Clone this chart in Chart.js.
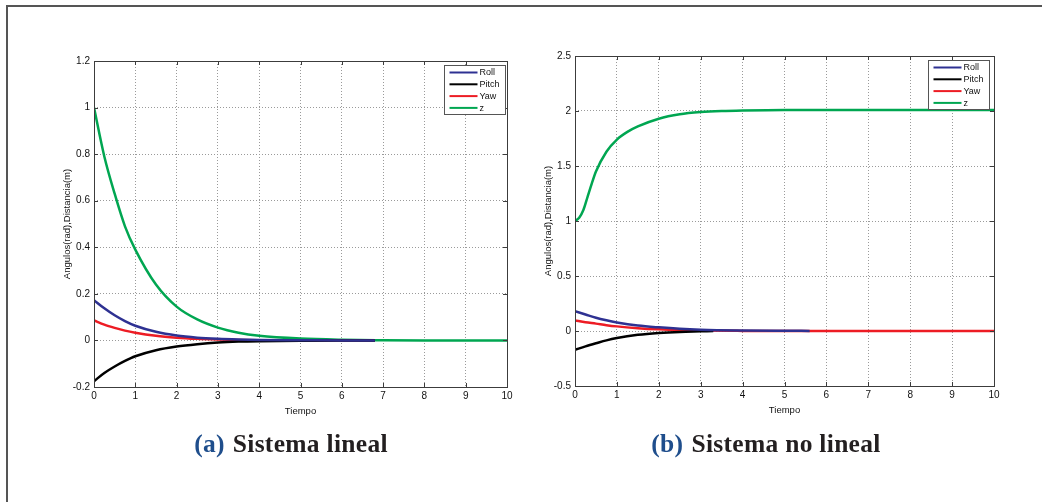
<!DOCTYPE html>
<html>
<head>
<meta charset="utf-8">
<script src="https://cdn.jsdelivr.net/npm/chart.js@4/dist/chart.umd.min.js"></script>
<style>
  html, body { margin: 0; padding: 0; background: #fff; }
  body { width: 1042px; height: 502px; position: relative; overflow: hidden; font-family: "Liberation Sans", Arial, sans-serif; }
  #frame { position: absolute; left: 6px; top: 5px; width: 1100px; height: 600px; border-left: 2px solid #555; border-top: 2px solid #555; }
  .wrap { position: absolute; top: 0; height: 430px; }
  #w1 { left: 0; width: 521px; }
  #w2 { left: 521px; width: 521px; }
  .cap { position: absolute; top: 429px; font-family: "Liberation Serif", "DejaVu Serif", serif; font-weight: bold; font-size: 25.5px; letter-spacing: 0.3px; color: #231f20; white-space: nowrap; transform: translateX(-50%); }
  .cap .lab { color: #1f4e8c; margin-right: 8px; }
</style>
</head>
<body>
<div id="frame"></div>
<div class="wrap" id="w1"><canvas id="c1" width="521" height="430"></canvas></div>
<div class="wrap" id="w2"><canvas id="c2" width="521" height="430"></canvas></div>
<div class="cap" style="left:291px"><span class="lab">(a)</span>Sistema lineal</div>
<div class="cap" style="left:766px"><span class="lab">(b)</span>Sistema no lineal</div>
<script>
// ---------- data (a) Sistema lineal ----------
const tLinZ    = [0, 0.25, 0.5, 0.75, 1, 1.5, 2, 2.5, 3, 3.5, 4, 5, 6, 7, 8, 9, 10];
const zLin     = [1, 0.79, 0.63, 0.49, 0.39, 0.24, 0.145, 0.09, 0.055, 0.033, 0.02, 0.008, 0.003, 0.001, 0, 0, 0];
const tLinA    = [0, 0.25, 0.5, 0.75, 1, 1.5, 2, 2.5, 3, 3.5, 4, 5, 6, 6.8];
const rollLin  = [0.173, 0.138, 0.108, 0.083, 0.063, 0.037, 0.021, 0.012, 0.007, 0.004, 0.002, 0.001, 0, 0];
const pitchLin = [-0.175, -0.140, -0.112, -0.088, -0.068, -0.042, -0.026, -0.016, -0.009, -0.005, -0.003, -0.001, 0, 0];
const yawLin   = [0.086, 0.068, 0.054, 0.042, 0.033, 0.020, 0.012, 0.007, 0.004, 0.002, 0.001, 0, 0, 0];

// ---------- data (b) Sistema no lineal ----------
const tNlZ     = [0, 0.1, 0.2, 0.3, 0.4, 0.5, 0.75, 1, 1.25, 1.5, 2, 2.5, 3, 3.5, 4, 5, 6, 7, 8, 9, 10];
const zNl      = [1.0, 1.03, 1.1, 1.22, 1.34, 1.45, 1.63, 1.74, 1.81, 1.86, 1.93, 1.97, 1.99, 2.0, 2.005, 2.01, 2.01, 2.01, 2.01, 2.01, 2.01];
const tNlRoll  = [0, 0.25, 0.5, 0.75, 1, 1.5, 2, 2.5, 3, 4, 5, 5.6];
const rollNl   = [0.18, 0.15, 0.12, 0.097, 0.078, 0.05, 0.033, 0.02, 0.012, 0.005, 0.002, 0.001];
const tNlPitch = [0, 0.25, 0.5, 0.75, 1, 1.5, 2, 2.5, 3, 3.3];
const pitchNl  = [-0.17, -0.14, -0.112, -0.085, -0.064, -0.035, -0.018, -0.008, -0.003, 0];
const tNlYaw   = [0, 0.25, 0.5, 0.75, 1, 1.5, 2, 2.5, 3, 4, 5, 10];
const yawNl    = [0.096, 0.08, 0.067, 0.053, 0.042, 0.026, 0.015, 0.008, 0.004, 0.001, 0, 0];

const seriesNames = ['Roll', 'Pitch', 'Yaw', 'z'];
const seriesColors = ['#2e3192', '#000000', '#ed1c24', '#00a651'];
const xTicks = [0, 1, 2, 3, 4, 5, 6, 7, 8, 9, 10];

const pts = (ts, vs) => ts.map((t, i) => ({ x: t, y: vs[i] }));

function ds(name, ts, vs) {
  const i = seriesNames.indexOf(name);
  return {
    label: name, data: pts(ts, vs),
    borderColor: seriesColors[i], backgroundColor: seriesColors[i],
    borderWidth: 2.5, pointRadius: 0, fill: false,
    cubicInterpolationMode: 'monotone'
  };
}

const fmt = v => {
  const s = Math.round(v * 10) / 10;
  return (s === 0) ? '0' : String(s);
};

const frameLegend = {
  id: 'frameLegend',
  afterDraw(chart, args, opts) {
    const ctx = chart.ctx, a = chart.chartArea;
    ctx.save();
    ctx.strokeStyle = '#3c3c3c'; ctx.lineWidth = 1;
    ctx.strokeRect(Math.round(a.left) + 0.5, Math.round(a.top) + 0.5, Math.round(a.right - a.left), Math.round(a.bottom - a.top));
    const xs = chart.scales.x, ys = chart.scales.y;
    ctx.beginPath();
    xs.ticks.forEach(t => {
      const px = Math.round(xs.getPixelForValue(t.value)) + 0.5;
      ctx.moveTo(px, a.bottom); ctx.lineTo(px, a.bottom - 4);
      ctx.moveTo(px, a.top); ctx.lineTo(px, a.top + 4);
    });
    ys.ticks.forEach(t => {
      const py = Math.round(ys.getPixelForValue(t.value)) + 0.5;
      ctx.moveTo(a.left, py); ctx.lineTo(a.left + 4, py);
      ctx.moveTo(a.right, py); ctx.lineTo(a.right - 4, py);
    });
    ctx.stroke();
    const w = 61, h = 49;
    const bx = Math.round(a.right - opts.dx - w) + 0.5, by = Math.round(a.top + 4) + 0.5;
    ctx.fillStyle = '#fff'; ctx.fillRect(bx, by, w, h);
    ctx.strokeStyle = '#555'; ctx.strokeRect(bx, by, w, h);
    ctx.font = '9px "Liberation Sans", Arial, sans-serif';
    ctx.textBaseline = 'middle';
    chart.data.datasets.forEach((d, i) => {
      const yy = by + 7 + i * 11.8;
      ctx.strokeStyle = d.borderColor; ctx.lineWidth = 2;
      ctx.beginPath(); ctx.moveTo(bx + 5, yy); ctx.lineTo(bx + 33, yy); ctx.stroke();
      ctx.fillStyle = '#111'; ctx.fillText(d.label, bx + 35, yy + 0.5);
    });
    ctx.restore();
  }
};

function makeChart(id, datasets, yMin, yMax, yStep, padL, padT, padB, padR, legendDx) {
  return new Chart(document.getElementById(id), {
    type: 'line',
    data: { datasets },
    options: {
      responsive: false, animation: false, events: [],
      layout: { padding: { left: padL, top: padT, bottom: padB, right: padR } },
      plugins: { legend: { display: false }, tooltip: { enabled: false }, frameLegend: { dx: legendDx } },
      scales: {
        x: {
          type: 'linear', min: 0, max: 10,
          afterBuildTicks: s => { s.ticks = xTicks.map(v => ({ value: v })); },
          ticks: { color: '#111', font: { size: 10, family: '"Liberation Sans", Arial, sans-serif' }, padding: 3, maxRotation: 0, callback: fmt },
          grid: { color: '#9a9a9a', lineWidth: 1, drawTicks: false },
          border: { display: false, dash: [1, 2] },
          title: { display: true, text: 'Tiempo', color: '#111', font: { size: 9.5, family: '"Liberation Sans", Arial, sans-serif' }, padding: { top: -1, bottom: 0 } },
          afterFit: s => { s.height = 30; }
        },
        y: {
          type: 'linear', min: yMin, max: yMax,
          ticks: { stepSize: yStep, color: '#111', font: { size: 10, family: '"Liberation Sans", Arial, sans-serif' }, padding: 4, callback: fmt },
          grid: { color: '#9a9a9a', lineWidth: 1, drawTicks: false },
          border: { display: false, dash: [1, 2] },
          title: { display: true, text: 'Angulos(rad),Distancia(m)', color: '#111', font: { size: 9.5, family: '"Liberation Sans", Arial, sans-serif' }, padding: 0 },
          afterFit: s => { s.width = 32; }
        }
      }
    },
    plugins: [frameLegend]
  });
}

const c1 = makeChart('c1', [
  ds('Roll', tLinA, rollLin),
  ds('Pitch', tLinA, pitchLin),
  ds('Yaw', tLinA, yawLin),
  ds('z', tLinZ, zLin)
], -0.2, 1.2, 0.2, 62, 61, 13, 14, 2);

const c2 = makeChart('c2', [
  ds('Roll', tNlRoll, rollNl),
  ds('Pitch', tNlPitch, pitchNl),
  ds('Yaw', tNlYaw, yawNl),
  ds('z', tNlZ, zNl)
], -0.5, 2.5, 0.5, 22, 56, 14, 48, 5);
</script>
</body>
</html>
